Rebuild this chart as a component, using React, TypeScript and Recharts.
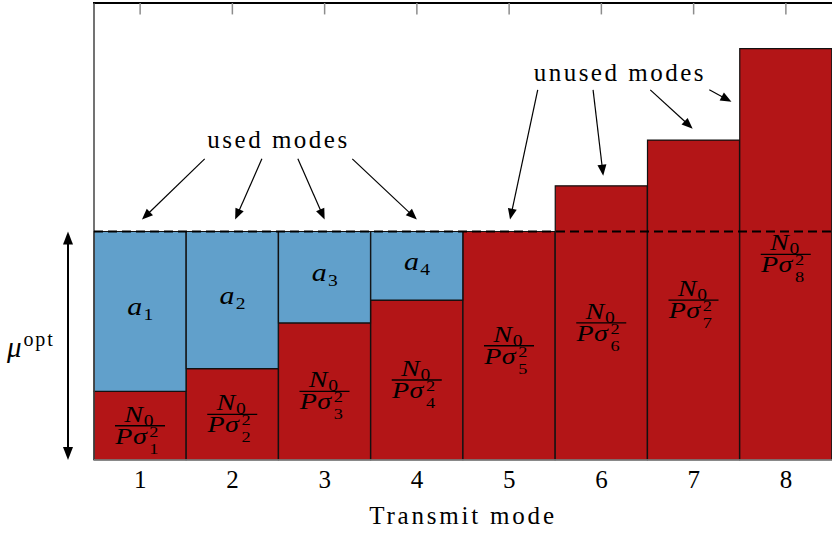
import React from 'react';
import {
  BarChart,
  Bar,
  XAxis,
  YAxis,
  ReferenceLine,
  ReferenceArea,
  ReferenceDot,
  LabelList,
} from 'recharts';

// water-filling over the transmit modes
const modes = [1, 2, 3, 4, 5, 6, 7, 8];
const noiseFloor = [1.5, 2, 3, 3.5, 5, 6, 7, 9]; // N0 / (P sigma_i^2)
const powerAlloc = [3.5, 3, 2, 1.5, 0, 0, 0, 0]; // a_i
const muOpt = 5;
const yMax = 10;
const topTickLen = 0.25;

// annotation text anchors and arrows, in data units
const usedText = { x: 2.5, y: 7.0, text: 'used modes' };
const usedArrows = [
  [1.7, 6.59, 1.02, 5.26],
  [2.32, 6.59, 2.03, 5.26],
  [2.71, 6.59, 3.0, 5.26],
  [3.3, 6.59, 4.0, 5.26],
];
const unusedText = { x: 6.2, y: 8.47, text: 'unused modes' };
const unusedArrows = [
  [5.31, 8.1, 5.01, 5.26],
  [5.91, 8.1, 6.02, 6.22],
  [6.53, 8.1, 6.99, 7.25],
  [7.17, 8.1, 7.41, 7.84],
];

const data = modes.map((m, i) => ({ mode: m, noise: noiseFloor[i], power: powerAlloc[i] }));

const SERIF = '"Liberation Serif", "DejaVu Serif", serif';
const RED = '#b31517';
const BLUE = '#61a0cb';

const W = 832;
const H = 534;
const MARGIN = { top: 3, right: 0, bottom: 0, left: 94 };

// N0 over P sigma_i^2, drawn around (0,0) and stretched a little sideways
const Frac = ({ cx, cy, i }: { cx: number; cy: number; i: number }) => (
  <g transform={`translate(${cx},${cy}) scale(1.22,1)`} fontFamily={SERIF} fill="#000">
    <text x={2.5} y={-4} fontSize={23} fontStyle="italic" textAnchor="end">
      N
    </text>
    <text x={3} y={0} fontSize={16}>
      0
    </text>
    <line x1={-20.5} x2={20.5} y1={0} y2={0} stroke="#000" strokeWidth={1.3} />
    <text x={6} y={18} fontSize={23} fontStyle="italic" textAnchor="end" letterSpacing={0.5}>
      Pσ
    </text>
    <text x={7.5} y={11} fontSize={15}>
      2
    </text>
    <text x={7.5} y={28} fontSize={15}>
      {i}
    </text>
  </g>
);

const noiseLabel = (p: any) => {
  const { x, y, width, height, index } = p;
  if (!height) return null;
  return <Frac cx={x + width / 2} cy={y + height / 2} i={modes[index]} />;
};

const powerLabel = (p: any) => {
  const { x, y, width, height, index } = p;
  if (!height || height < 1) return null;
  const cx = x + width / 2;
  const cy = y + height / 2;
  return (
    <g transform={`translate(${cx},${cy}) scale(1.15,1)`} fontFamily={SERIF} fill="#000">
      <text x={2} y={4} fontSize={26} fontStyle="italic" textAnchor="end">
        a
      </text>
      <text x={3} y={9} fontSize={17}>
        {modes[index]}
      </text>
    </g>
  );
};

const arrowHead = (x1: number, y1: number, x2: number, y2: number, len = 11, half = 4.5) => {
  const a = Math.atan2(y2 - y1, x2 - x1);
  const bx = x2 - len * Math.cos(a);
  const by = y2 - len * Math.sin(a);
  const px = -Math.sin(a) * half;
  const py = Math.cos(a) * half;
  return `${x2},${y2} ${bx + px},${by + py} ${bx - px},${by - py}`;
};

const Arrow = (p: any) => {
  const { x1, y1, x2, y2 } = p;
  const a = Math.atan2(y2 - y1, x2 - x1);
  return (
    <g>
      <line x1={x1} y1={y1} x2={x2 - 8 * Math.cos(a)} y2={y2 - 8 * Math.sin(a)} stroke="#000" strokeWidth={1.2} />
      <polygon points={arrowHead(x1, y1, x2, y2)} fill="#000" />
    </g>
  );
};

const noteText = (text: string) => (p: any) => (
  <text x={p.cx} y={p.cy + 8} textAnchor="middle" fontFamily={SERIF} fontSize={25} letterSpacing={2.5} fill="#000">
    {text}
  </text>
);

// black top edge of the plot box
const TopEdge = (p: any) => {
  const { x, y, width } = p.viewBox;
  return <path d={`M${x - 1},${y} H${x + width}`} stroke="#000" strokeWidth={2.2} fill="none" />;
};

// double arrow spanning 0..mu, with the mu^opt label to its left
const MuBracket = (p: any) => {
  const { x, y, height } = p.viewBox;
  const ax = x - 26;
  const top = y;
  const bot = y + height;
  return (
    <g>
      <line x1={ax} x2={ax} y1={top + 8} y2={bot - 8} stroke="#000" strokeWidth={2} />
      <polygon points={arrowHead(ax, bot - 20, ax, top, 13, 5)} fill="#000" />
      <polygon points={arrowHead(ax, top + 20, ax, bot, 13, 5)} fill="#000" />
      <text x={7} y={top + height / 2 + 11} fontFamily={SERIF} fill="#000">
        <tspan fontSize={29} fontStyle="italic">μ</tspan>
        <tspan fontSize={20} dy={-11} dx={2} letterSpacing={1.8}>opt</tspan>
      </text>
    </g>
  );
};

export default function App() {
  return (
    <div style={{ position: 'absolute', left: 0, top: 0, width: W, height: H, background: '#fff' }}>
      <BarChart
        width={W}
        height={H}
        data={data}
        margin={MARGIN}
        barCategoryGap={0}
        barGap={0}
      >
        <XAxis
          dataKey="mode"
          type="number"
          domain={[0.5, 8.5]}
          ticks={modes}
          height={74}
          tickLine={false}
          tickSize={0}
          tickMargin={10}
          axisLine={{ stroke: '#8a8a8a', strokeWidth: 1.5 }}
          tick={{ fontSize: 25, fill: '#000', fontFamily: SERIF }}
          label={{
            value: 'Transmit mode',
            position: 'insideBottom',
            offset: 10,
            fontSize: 25,
            fill: '#000',
            fontFamily: SERIF,
            letterSpacing: 2.8,
          }}
        />
        <YAxis type="number" domain={[0, yMax]} hide />
        <Bar dataKey="noise" stackId="w" fill={RED} stroke="#111" strokeWidth={1.2} isAnimationActive={false}>
          <LabelList dataKey="noise" content={noiseLabel} />
        </Bar>
        <Bar dataKey="power" stackId="w" fill={BLUE} stroke="#111" strokeWidth={1.2} isAnimationActive={false}>
          <LabelList dataKey="power" content={powerLabel} />
        </Bar>
        {/* frame: dark left edge, black top edge with short inward ticks */}
        <ReferenceLine x={0.5} stroke="#444" strokeWidth={1.5} />
        <ReferenceArea
          x1={0.5}
          x2={8.5}
          y1={0}
          y2={yMax}
          fillOpacity={0}
          strokeOpacity={0}
          label={<TopEdge />}
        />
        {modes.map((m) => (
          <ReferenceLine
            key={`t${m}`}
            segment={[
              { x: m, y: yMax },
              { x: m, y: yMax - topTickLen },
            ]}
            stroke="#8c8c8c"
            strokeWidth={1.5}
          />
        ))}
        <ReferenceLine y={muOpt} stroke="#000" strokeWidth={2} strokeDasharray="9 5" />
        <ReferenceArea
          x1={0.5}
          x2={8.5}
          y1={0}
          y2={muOpt}
          fillOpacity={0}
          strokeOpacity={0}
          label={<MuBracket />}
        />
        <ReferenceDot x={usedText.x} y={usedText.y} r={0} shape={noteText(usedText.text)} />
        <ReferenceDot x={unusedText.x} y={unusedText.y} r={0} shape={noteText(unusedText.text)} />
        {[...usedArrows, ...unusedArrows].map(([x1, y1, x2, y2], k) => (
          <ReferenceLine
            key={k}
            segment={[
              { x: x1, y: y1 },
              { x: x2, y: y2 },
            ]}
            shape={Arrow}
          />
        ))}
      </BarChart>
    </div>
  );
}
